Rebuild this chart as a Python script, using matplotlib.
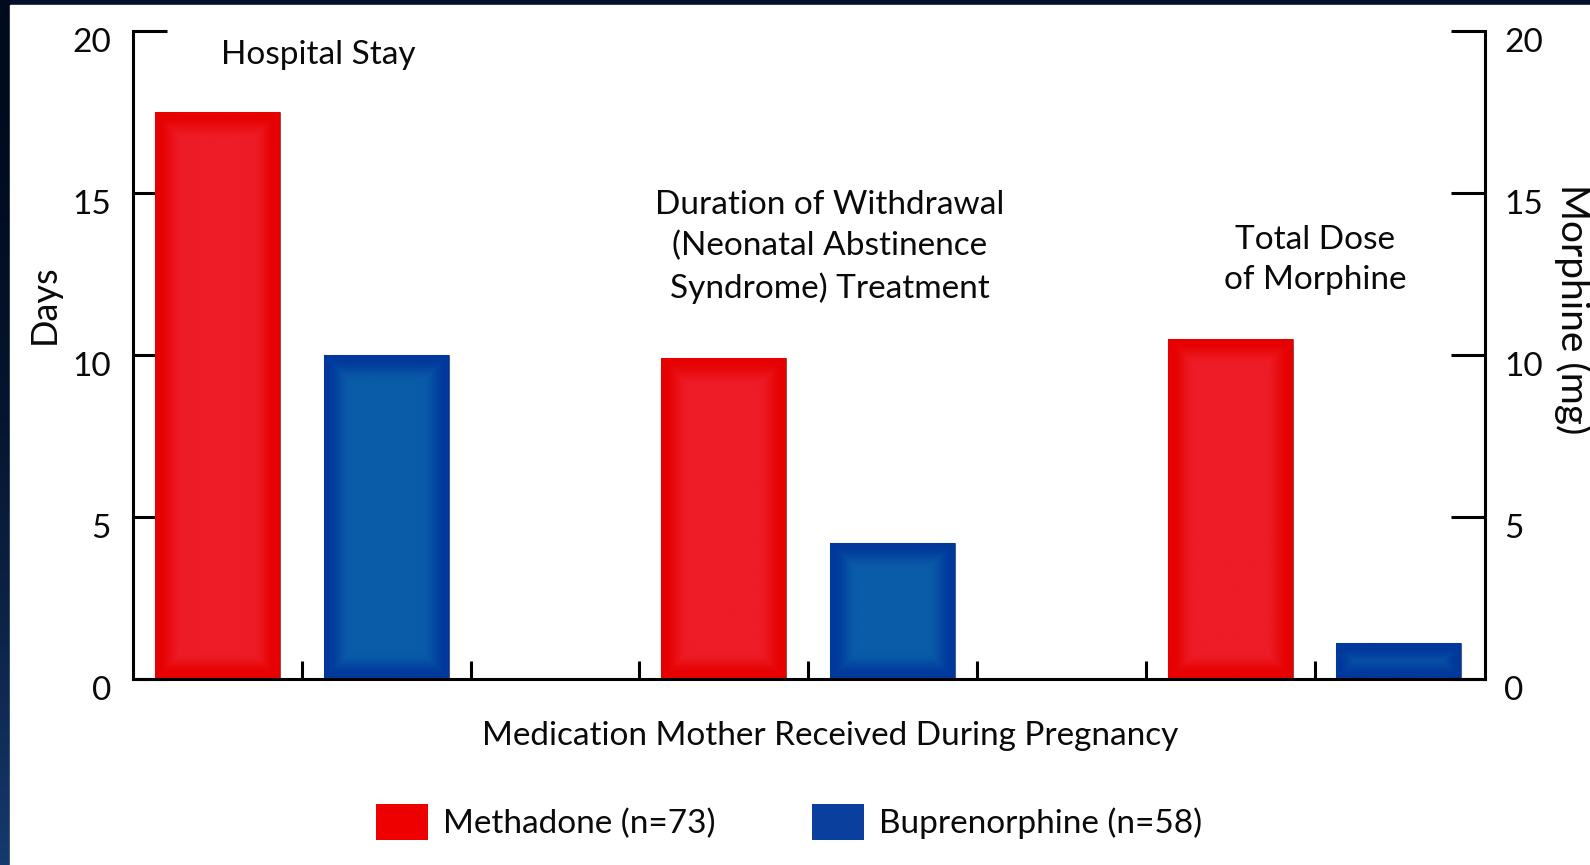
import numpy as np
import matplotlib
matplotlib.use('Agg')
import matplotlib.pyplot as plt
from matplotlib.patches import Patch, Rectangle
from matplotlib.colors import to_rgb

# data
categories = ['Hospital Stay',
              'Duration of Withdrawal\n(Neonatal Abstinence\nSyndrome) Treatment',
              'Total Dose\nof Morphine']
methadone = [17.5, 9.9, 10.5]
buprenorphine = [10.0, 4.2, 1.1]
series_labels = ['Methadone (n=73)', 'Buprenorphine (n=58)']
yticks = [0, 5, 10, 15, 20]

plt.rcParams['font.family'] = ['Lato', 'DejaVu Sans']

W, H = 1590, 865
fig = plt.figure(figsize=(W / 100, H / 100), dpi=100)
fig.patch.set_facecolor('#02102a')


def fx(x):
    return x / W


def fy(y):
    return 1 - y / H


# background: dark frame with white panel
bg = fig.add_axes([0, 0, 1, 1], zorder=-5)
bg.axis('off')
grad = np.linspace(0, 1, 200)[:, None, None]
top_c = np.array(to_rgb('#010b1e'))
bot_c = np.array(to_rgb('#163a6e'))
band = top_c + (bot_c - top_c) * grad ** 2
bg.imshow(band, extent=(0, 10, H, 0), aspect='auto')
bg.add_patch(Rectangle((10, 5), W - 10, H - 5, color='white'))
bg.set_xlim(0, W)
bg.set_ylim(H, 0)

ax = fig.add_axes([fx(133), fy(679), (1485 - 133) / W, (679 - 31) / H])
ax.set_facecolor('none')

n_slots = len(categories) * 3 - 1
pos_m = np.arange(len(categories)) * 3
pos_b = pos_m + 1
width = 0.74

ax.set_xlim(-0.5, n_slots - 0.49)
ax.set_ylim(0, 20)

red_edge, red_mid = np.array(to_rgb('#e60000')), np.array(to_rgb('#ed1c26'))
blu_edge, blu_mid = np.array(to_rgb('#00389c')), np.array(to_rgb('#0a5ca8'))

bars_m = ax.bar(pos_m, methadone, width, color=red_edge,
                edgecolor=(0.25, 0.1, 0.1, 0.5), linewidth=0.8, zorder=2)
bars_b = ax.bar(pos_b, buprenorphine, width, color=blu_edge,
                edgecolor=(0.1, 0.1, 0.25, 0.5), linewidth=0.8, zorder=2)


def shade(bar, edge, mid):
    x0, y0 = bar.get_x(), bar.get_y()
    w, h = bar.get_width(), bar.get_height()
    (p0, q0), (p1, q1) = ax.transData.transform([(x0, y0), (x0 + w, y0 + h)])
    nx, ny = max(int(p1 - p0), 2), max(int(q1 - q0), 2)
    xx = np.arange(nx) + 0.5
    yy = np.arange(ny) + 0.5
    d = np.minimum.outer(np.minimum(yy, ny - yy), np.minimum(xx, nx - xx))
    t = np.clip((d - 3) / 24, 0, 1)
    t = t * t * (3 - 2 * t)
    img = edge + (mid - edge) * t[..., None]
    im = ax.imshow(img, extent=(x0, x0 + w, y0, y0 + h), aspect='auto',
                   interpolation='bilinear', zorder=2.1)
    im.set_clip_path(bar)


for b in bars_m:
    shade(b, red_edge, red_mid)
for b in bars_b:
    shade(b, blu_edge, blu_mid)

ax.set_xlim(-0.5, n_slots - 0.49)
ax.set_ylim(0, 20)

for s in ['top', 'right']:
    ax.spines[s].set_visible(False)
for s in ['left', 'bottom']:
    ax.spines[s].set_linewidth(2.2)
ax.set_xticks(np.arange(n_slots - 1) + 0.5)
ax.tick_params(axis='x', direction='in', length=13, width=2.2, labelbottom=False)
ax.set_yticks(yticks)
ax.tick_params(axis='y', direction='in', length=24.5, width=2.2, labelleft=False)

ax2 = ax.twinx()
ax2.set_ylim(0, 20)
ax2.set_yticks(yticks)
for s in ['top', 'left', 'bottom']:
    ax2.spines[s].set_visible(False)
ax2.spines['right'].set_linewidth(2.2)
ax2.tick_params(axis='y', direction='in', length=24.5, width=2.2, labelright=False)

fs = 24
tc = '#0a0a0a'
for v in yticks:
    ax.annotate(str(v), xy=(0, v), xycoords=('axes fraction', 'data'),
                xytext=(-22, -12), textcoords='offset pixels',
                ha='right', va='center', fontsize=fs, color=tc)
    ax.annotate(str(v), xy=(1, v), xycoords=('axes fraction', 'data'),
                xytext=(19, -12), textcoords='offset pixels',
                ha='left', va='center', fontsize=fs, color=tc)

# group captions
fig.text(fx(318), fy(55), categories[0], ha='center', va='center', fontsize=fs, color=tc)
fig.text(fx(830), fy(247), categories[1], ha='center', va='center', fontsize=fs,
         color=tc, linespacing=1.45)
fig.text(fx(1315), fy(260), categories[2], ha='center', va='center', fontsize=fs,
         color=tc, linespacing=1.45)

fig.text(fx(44), fy(304), 'Days', rotation=90, ha='center', va='center',
         fontsize=26, color=tc)
fig.text(fx(1573), fy(309), 'Morphine (mg)', rotation=270, ha='center', va='center',
         fontsize=28, color=tc)
fig.text(fx(830), fy(736), 'Medication Mother Received During Pregnancy',
         ha='center', va='center', fontsize=fs, color=tc)

handles = [Patch(facecolor='#ee0000', edgecolor='none'),
           Patch(facecolor='#0a3f9e', edgecolor='none')]
fig.legend(handles, series_labels, loc='center', bbox_to_anchor=(fx(789), fy(822)),
           ncol=2, frameon=False, fontsize=fs, handlelength=1.55, handleheight=1.3,
           handletextpad=0.45, columnspacing=2.9, labelcolor=tc)

fig.savefig('out.png', dpi=100, facecolor=fig.get_facecolor())
